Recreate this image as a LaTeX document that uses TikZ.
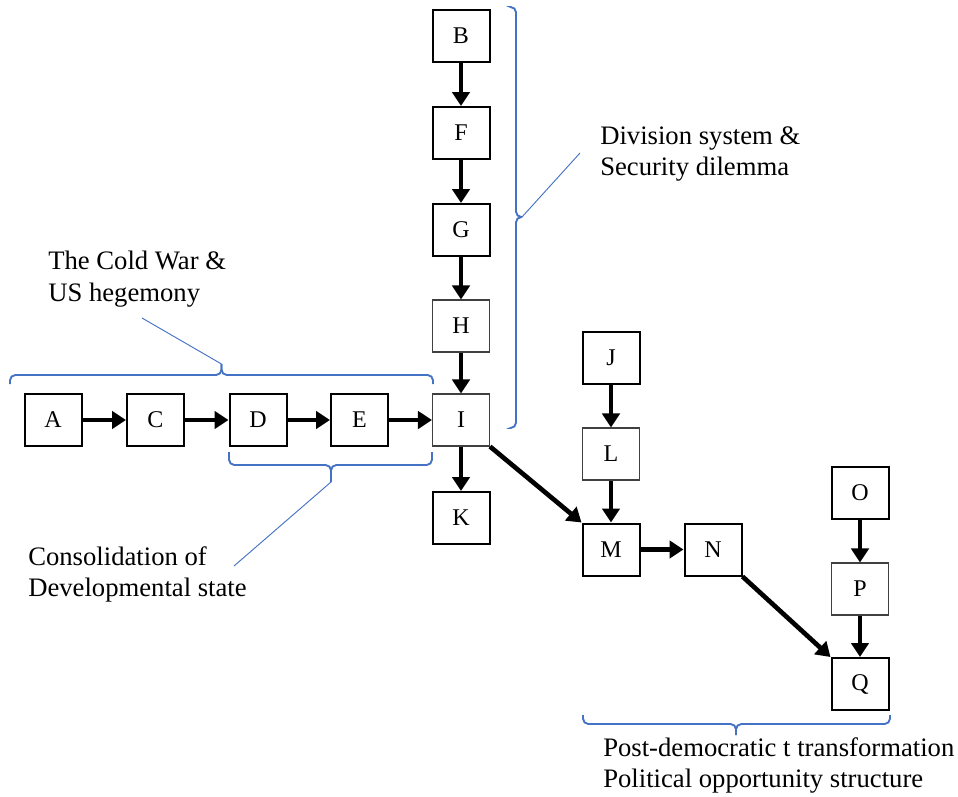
\documentclass[tikz,border=0pt]{standalone}
\usepackage{fontspec}
\setmainfont{Liberation Serif}
\usetikzlibrary{arrows.meta}
\definecolor{bracecol}{RGB}{68,114,196}
\tikzset{
  box/.style={draw=black,line width=1.5pt,minimum width=42.75pt,minimum height=39pt,inner sep=0pt,font=\fontsize{18}{22}\selectfont},
  thinbox/.style={box,draw=black!75,line width=0.8pt},
  arr/.style={line width=3.5pt,-{Triangle[length=10.5pt 0,width=13pt 0]}},
  brc/.style={draw=bracecol,line width=1.4pt,rounded corners=4pt},
  ptr/.style={draw=bracecol,line width=0.7pt},
  lbl/.style={anchor=north west,inner sep=0pt,align=left,font=\fontsize{20}{23.6}\selectfont}
}
\begin{document}
\begin{tikzpicture}[x=0.75pt,y=0.75pt,yscale=-1,xscale=1]
\useasboundingbox (0,0) rectangle (958,797);
% Boxes
\node[box] (A) at (53,420) {A};
\node[box] (C) at (155.5,420) {C};
\node[box] (D) at (258,420) {D};
\node[box] (E) at (359.5,420) {E};
\node[thinbox] (I) at (461,420) {I};
\node[box] (B) at (461,36) {B};
\node[box] (F) at (461,133) {F};
\node[box] (G) at (461,230) {G};
\node[thinbox] (H) at (461,326) {H};
\node[box] (K) at (461,518) {K};
\node[box] (J) at (611,358) {J};
\node[thinbox] (L) at (611,454) {L};
\node[box] (M) at (611,549.5) {M};
\node[box] (N) at (713,549.5) {N};
\node[box] (O) at (860,493) {O};
\node[thinbox] (P) at (860,589) {P};
\node[box] (Q) at (860,684) {Q};
% Arrows
\draw[arr] (A) -- (C);
\draw[arr] (C) -- (D);
\draw[arr] (D) -- (E);
\draw[arr] (E) -- (I);
\draw[arr] (B) -- (F);
\draw[arr] (F) -- (G);
\draw[arr] (G) -- (H);
\draw[arr] (H) -- (I);
\draw[arr] (I) -- (K);
\draw[arr] (I.south east) -- (M.north west);
\draw[arr] (J) -- (L);
\draw[arr] (L) -- (M);
\draw[arr] (M) -- (N);
\draw[arr] (N.south east) -- (Q.north west);
\draw[arr] (O) -- (P);
\draw[arr] (P) -- (Q);
% Braces
\coordinate (coldtip) at (221.5,364);
\coordinate (devtip) at (331,482);
\coordinate (divtip) at (522,217);
\coordinate (posttip) at (736,735);
\draw[brc] (10,384) -- (10,375) -- (coldtip|-0,375) -- (coldtip);
\draw[brc] (coldtip) -- (coldtip|-0,375) -- (433,375) -- (433,384);
\draw[brc] (229,452) -- (229,465) -- (devtip|-0,465) -- (devtip);
\draw[brc] (devtip) -- (devtip|-0,465) -- (432,465) -- (432,452);
\draw[brc] (511,7) -- (516,7) -- (516,0|-divtip) -- (divtip);
\draw[brc] (divtip) -- (516,0|-divtip) -- (516,428) -- (511,428);
\draw[brc] (583,715) -- (583,724) -- (posttip|-0,724) -- (posttip);
\draw[brc] (posttip) -- (posttip|-0,724) -- (890,724) -- (890,715);
% Pointers
\coordinate (coldend) at (142,318);
\coordinate (devend) at (234,566);
\coordinate (divend) at (580,153);
\draw[ptr] (coldtip) -- (coldend);
\draw[ptr] (devtip) -- (devend);
\draw[ptr] (divtip) -- (divend);
% Labels
\node[lbl] (cold) at (48,251) {The Cold War \&\\US hegemony};
\node[lbl] (div) at (600,126) {Division system \&\\Security dilemma};
\node[lbl] (dev) at (28,546) {Consolidation of\\Developmental state};
\node[lbl] (post) at (603,737) {Post-democratic t transformation\\Political opportunity structure};
\end{tikzpicture}
\end{document}
